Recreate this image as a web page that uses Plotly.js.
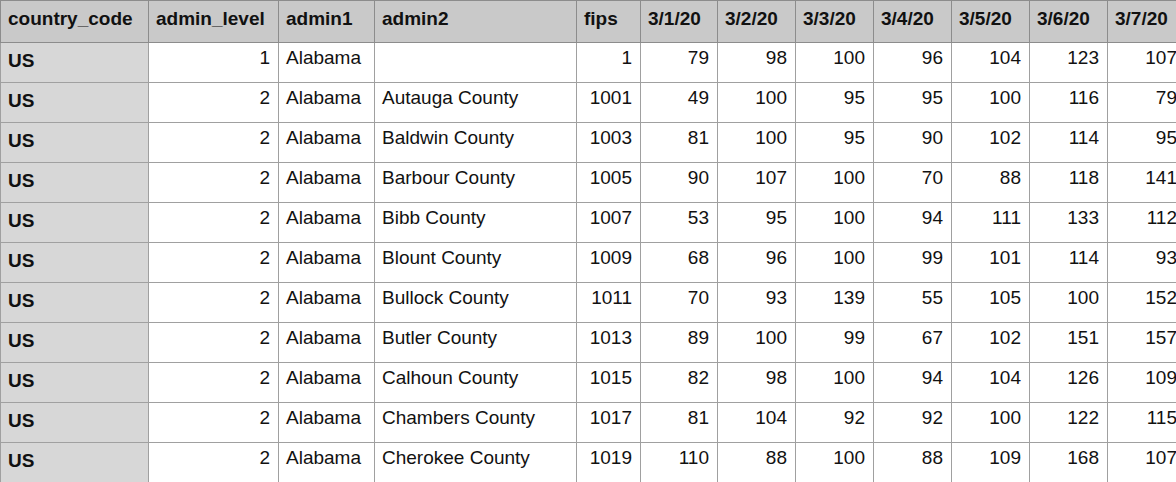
<!DOCTYPE html>
<html>
<head>
<meta charset="utf-8">
<script src="https://cdn.plot.ly/plotly-3.0.1.min.js"></script>
<style>body{margin:0;overflow:hidden;background:#fff}</style>
</head>
<body>
<div id="chart"></div>
<script>
var headers = ['country_code', 'admin_level', 'admin1', 'admin2', 'fips', '3/1/20', '3/2/20', '3/3/20', '3/4/20', '3/5/20', '3/6/20', '3/7/20'];
var countryCode = ['US', 'US', 'US', 'US', 'US', 'US', 'US', 'US', 'US', 'US', 'US'];
var adminLevel = [1, 2, 2, 2, 2, 2, 2, 2, 2, 2, 2];
var admin1 = ['Alabama', 'Alabama', 'Alabama', 'Alabama', 'Alabama', 'Alabama', 'Alabama', 'Alabama', 'Alabama', 'Alabama', 'Alabama'];
var admin2 = ['', 'Autauga County', 'Baldwin County', 'Barbour County', 'Bibb County', 'Blount County', 'Bullock County', 'Butler County', 'Calhoun County', 'Chambers County', 'Cherokee County'];
var fips = [1, 1001, 1003, 1005, 1007, 1009, 1011, 1013, 1015, 1017, 1019];
var d0301 = [79, 49, 81, 90, 53, 68, 70, 89, 82, 81, 110];
var d0302 = [98, 100, 100, 107, 95, 96, 93, 100, 98, 104, 88];
var d0303 = [100, 95, 95, 100, 100, 100, 139, 99, 100, 92, 100];
var d0304 = [96, 95, 90, 70, 94, 99, 55, 67, 94, 92, 88];
var d0305 = [104, 100, 102, 88, 111, 101, 105, 102, 104, 100, 109];
var d0306 = [123, 116, 114, 118, 133, 114, 100, 151, 126, 122, 168];
var d0307 = [107, 79, 95, 141, 112, 93, 152, 157, 109, 115, 107];

var colWidths = [148, 130, 96, 202, 64, 77, 78, 78, 78, 78, 78, 78];
var cols = [countryCode, adminLevel, admin1, admin2, fips, d0301, d0302, d0303, d0304, d0305, d0306, d0307];
var totalW = colWidths.reduce((a, b) => a + b, 0);

var fills = cols.map((c, i) => c.map(() => i === 0 ? '#d7d7d7' : '#ffffff'));
var aligns = ['left', 'right', 'left', 'left', 'right', 'right', 'right', 'right', 'right', 'right', 'right', 'right'];

var trace = {
    type: 'table',
    columnwidth: colWidths,
    header: {
        values: headers.map(h => '<b>' + h + '</b>'),
        align: 'left',
        height: 42,
        fill: {color: '#c9c9c9'},
        line: {color: '#8c8c8c', width: 1},
        font: {family: 'Liberation Sans, Arial', size: 19, color: '#111'}
    },
    cells: {
        values: cols.map((c, i) => i === 0 ? c.map(v => '<b>' + v + '</b>') : c),
        align: aligns,
        height: 40,
        fill: {color: fills},
        line: {color: '#a0a0a0', width: 1},
        font: {family: 'Liberation Sans, Arial', size: 19, color: '#111'}
    },
    domain: {x: [0, 1], y: [0, 1]}
};

Plotly.newPlot('chart', [trace], {
    width: totalW,
    height: 482,
    margin: {l: 0, r: 0, t: 0, b: 0},
    paper_bgcolor: '#fff'
}, {displayModeBar: false});
</script>
</body>
</html>
